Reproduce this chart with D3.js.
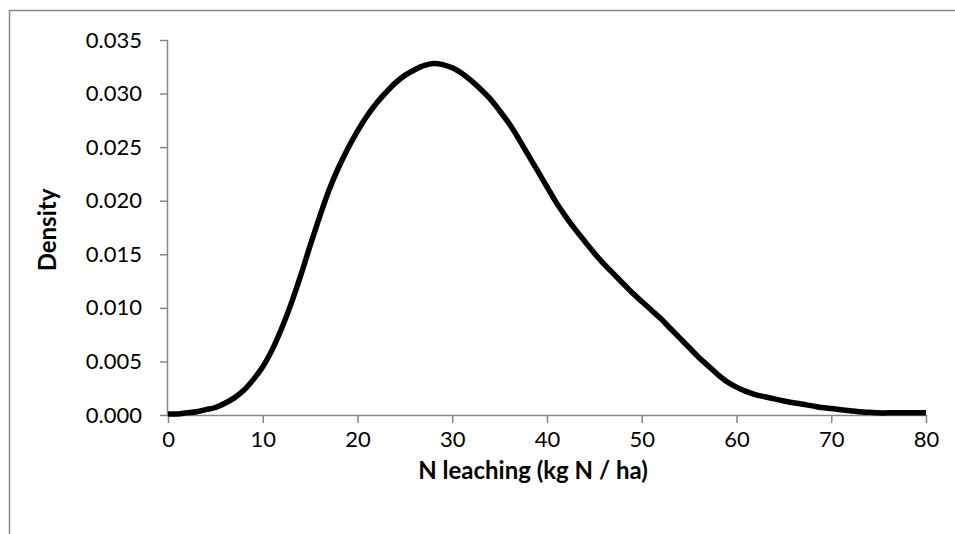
<!DOCTYPE html>
<html>
<head>
<meta charset="utf-8">
<script src="https://cdn.jsdelivr.net/npm/d3@7"></script>
<style>
  html, body { margin: 0; padding: 0; background: #fff; }
  svg { display: block; }
  text { font-family: Lato, "Open Sans", sans-serif; fill: #000; }
</style>
</head>
<body>
<svg id="chart" width="955" height="534"></svg>
<script>
// ---- data ----
const leaching = [0,1,2,3,4,5,6,7,8,9,10,11,12,13,14,15,16,17,18,19,20,21,22,23,24,25,26,27,28,29,30,31,32,33,34,35,36,37,38,39,40,41,42,43,44,45,46,47,48,49,50,51,52,53,54,55,56,57,58,59,60,61,62,63,64,65,66,67,68,69,70,71,72,73,74,75,76,77,78,79,80];
const density = [0.0001,0.0001,0.0002,0.0003,0.0005,0.0007,0.0011,0.0016,0.0023,0.0033,0.0045,0.0061,0.0081,0.0104,0.0130,0.0158,0.0185,0.0210,0.0231,0.0249,0.0265,0.0279,0.0291,0.0301,0.0310,0.0317,0.0322,0.0326,0.0328,0.0327,0.0324,0.0319,0.0312,0.0304,0.0295,0.0284,0.0272,0.0258,0.0243,0.0228,0.0213,0.0198,0.0185,0.0173,0.0162,0.0151,0.0141,0.0132,0.0123,0.0114,0.0106,0.0098,0.0090,0.0081,0.0072,0.0063,0.0054,0.0046,0.0038,0.0031,0.0026,0.0022,0.0019,0.0017,0.0015,0.0013,0.00115,0.0010,0.00085,0.0007,0.0006,0.0005,0.0004,0.0003,0.00025,0.0002,0.0002,0.0002,0.0002,0.0002,0.0002];
const xTicks = [0,10,20,30,40,50,60,70,80];
const yTicks = [0,0.005,0.010,0.015,0.020,0.025,0.030,0.035];
const xTitle = "N leaching (kg N / ha)";
const yTitle = "Density";

// ---- layout ----
const svg = d3.select("#chart");
const pLeft = 168, pRight = 926, pTop = 40, pBottom = 415;
const axisColor = "#868686";

// outer chart border (only left and top visible in the frame)
svg.append("rect")
  .attr("x", 9.5).attr("y", 10.5)
  .attr("width", 1000).attr("height", 1000)
  .attr("fill", "none").attr("stroke", axisColor).attr("stroke-width", 1.5);

const x = d3.scaleLinear().domain([0, 80]).range([pLeft, pRight]);
const y = d3.scaleLinear().domain([0, 0.035]).range([pBottom, pTop]);

// x axis
const xAxis = svg.append("g")
  .attr("transform", `translate(0,${pBottom})`)
  .call(d3.axisBottom(x).tickValues(xTicks).tickSize(8).tickPadding(8).tickFormat(d3.format("d")));
// y axis
const yAxis = svg.append("g")
  .attr("transform", `translate(${pLeft},0)`)
  .call(d3.axisLeft(y).tickValues(yTicks).tickSize(8).tickPadding(18).tickFormat(d3.format(".3f")));

[xAxis, yAxis].forEach(g => {
  g.select(".domain").attr("stroke", axisColor).attr("stroke-width", 1.5);
  g.selectAll(".tick line").attr("stroke", axisColor).attr("stroke-width", 1.5);
  g.selectAll(".tick text").style("font-size", "22px").attr("fill", "#000");
});
xAxis.select(".domain").attr("d", `M${pLeft},0.5H${pRight}`);
yAxis.select(".domain").attr("d", `M-0.5,${pTop}V${pBottom}`);

// curve
const pts = leaching.map((v, i) => [v, density[i]]);
svg.append("path")
  .datum(pts)
  .attr("fill", "none")
  .attr("stroke", "#000")
  .attr("stroke-width", 5.5)
  .attr("stroke-linejoin", "round")
  .attr("d", d3.line().x(d => x(d[0])).y(d => y(d[1])).curve(d3.curveCatmullRom.alpha(0.5)));

// titles
svg.append("text")
  .attr("x", 533).attr("y", 479)
  .attr("text-anchor", "middle")
  .style("font-size", "24px").style("font-weight", "bold")
  .text(xTitle);

svg.append("text")
  .attr("transform", `translate(56,230) rotate(-90)`)
  .attr("text-anchor", "middle")
  .style("font-size", "24px").style("font-weight", "bold")
  .text(yTitle);
</script>
</body>
</html>
